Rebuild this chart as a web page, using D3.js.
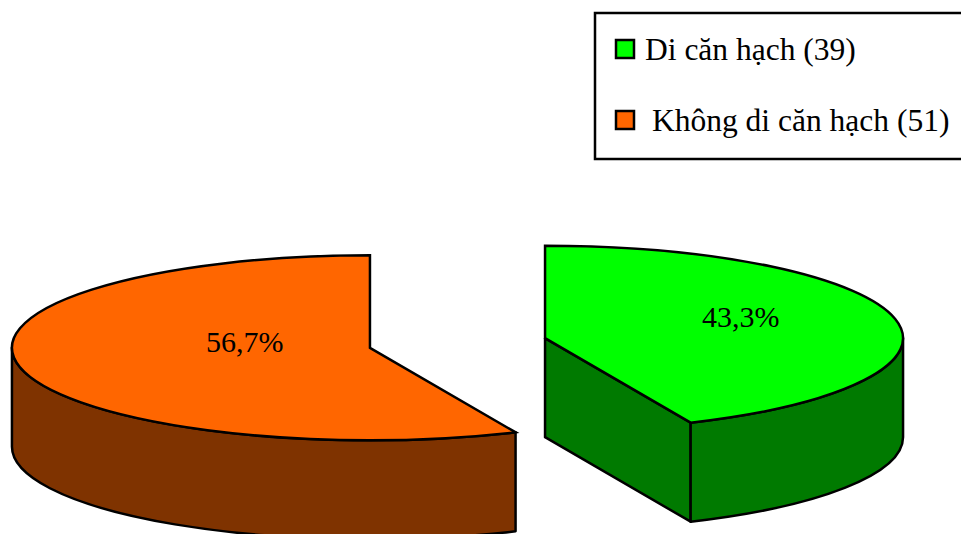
<!DOCTYPE html>
<html>
<head>
<meta charset="utf-8">
<script src="https://cdn.jsdelivr.net/npm/d3@7"></script>
<style>
  body { margin: 0; background: #fff; }
  svg { display: block; }
  text { font-family: "Liberation Serif", "Times New Roman", serif; fill: #000; }
</style>
</head>
<body>
<svg id="chart" width="961" height="534"></svg>
<script>
// data
const categories = ['Di căn hạch', 'Không di căn hạch'];
const counts = [39, 51];
const topColors = ['#00ff00', '#ff6600'];
const sideColors = ['#007a00', '#7f3300'];

const svg = d3.select('#chart');

// pie geometry (ellipse = tilted disc)
const cx = 457.5, cy = 343;
const rx = 358, ry = 92.5, depth = 99;
const explode = 0.25;
const lw = 2.5;

const total = d3.sum(counts);
const fmt = v => d3.format('.1f')(v).replace('.', ',') + '%';

const pie = d3.pie().sort(null).value(d => d)(counts);

function pt(c, a, dy) {
    return [c[0] + rx * Math.sin(a), c[1] - ry * Math.cos(a) + (dy || 0)];
}

function arcTo(p, sweep, large) {
    return `A${rx},${ry} 0 ${large} ${sweep} ${p[0]},${p[1]}`;
}

const slices = pie.map((p, i) => {
    const mid = (p.startAngle + p.endAngle) / 2;
    const c = [cx + explode * rx * Math.sin(mid), cy - explode * ry * Math.cos(mid)];
    return { p, i, mid, c };
});

const g = svg.append('g');

slices.forEach(s => {
    const a0 = s.p.startAngle, a1 = s.p.endAngle, c = s.c;
    const side = sideColors[s.i];

    // radial faces that turn towards the viewer
    [a0, a1].forEach((a, k) => {
        if (!(k === 1 && Math.sin(a) > 0) && !(k === 0 && Math.sin(a) < 0)) return;
        const e = pt(c, a);
        g.append('path')
            .attr('d', `M${c[0]},${c[1]} L${e[0]},${e[1]} L${e[0]},${e[1] + depth} L${c[0]},${c[1] + depth} Z`)
            .attr('fill', side)
            .attr('stroke', '#000')
            .attr('stroke-width', lw)
            .attr('stroke-linejoin', 'round');
    });

    // outer wall, visible between 90deg and 270deg
    const w0 = Math.max(a0, Math.PI / 2), w1 = Math.min(a1, Math.PI * 1.5);
    if (w1 > w0) {
        const s0 = pt(c, w0), s1 = pt(c, w1);
        const large = (w1 - w0) > Math.PI ? 1 : 0;
        g.append('path')
            .attr('d', `M${s0[0]},${s0[1]} ${arcTo(s1, 1, large)} L${s1[0]},${s1[1] + depth} ` +
                       `${arcTo([s0[0], s0[1] + depth], 0, large)} Z`)
            .attr('fill', side)
            .attr('stroke', '#000')
            .attr('stroke-width', lw)
            .attr('stroke-linejoin', 'round');
    }

    // top face
    const t0 = pt(c, a0), t1 = pt(c, a1);
    const large = (a1 - a0) > Math.PI ? 1 : 0;
    g.append('path')
        .attr('d', `M${c[0]},${c[1]} L${t0[0]},${t0[1]} ${arcTo(t1, 1, large)} Z`)
        .attr('fill', topColors[s.i])
        .attr('stroke', '#000')
        .attr('stroke-width', lw)
        .attr('stroke-linejoin', 'miter');
});

// percentage labels near the top-face centroid
const nudge = [[28, -2], [3, -3]];
slices.forEach(s => {
    const half = (s.p.endAngle - s.p.startAngle) / 2;
    const f = (2 / 3) * Math.sin(half) / half;
    const lx = s.c[0] + rx * f * Math.sin(s.mid) + nudge[s.i][0];
    const ly = s.c[1] - ry * f * Math.cos(s.mid) + nudge[s.i][1];
    g.append('text')
        .attr('x', lx)
        .attr('y', ly)
        .attr('text-anchor', 'middle')
        .style('font-size', '30px')
        .text(fmt(counts[s.i] / total * 100));
});

// legend
const legend = svg.append('g');
legend.append('rect')
    .attr('x', 595).attr('y', 13)
    .attr('width', 380).attr('height', 146)
    .attr('fill', '#fff')
    .attr('stroke', '#000')
    .attr('stroke-width', 2.5);

const legendY = d3.scalePoint().domain(categories).range([49, 120]);
const legendTextX = [645, 652];

categories.forEach((name, i) => {
    const y = legendY(name);
    legend.append('rect')
        .attr('x', 616).attr('y', y - 9)
        .attr('width', 18).attr('height', 18)
        .attr('fill', topColors[i])
        .attr('stroke', '#000')
        .attr('stroke-width', 2.5);
    legend.append('text')
        .attr('x', legendTextX[i])
        .attr('y', y + 10.5)
        .style('font-size', '31.5px')
        .text(`${name} (${counts[i]})`);
});
</script>
</body>
</html>
